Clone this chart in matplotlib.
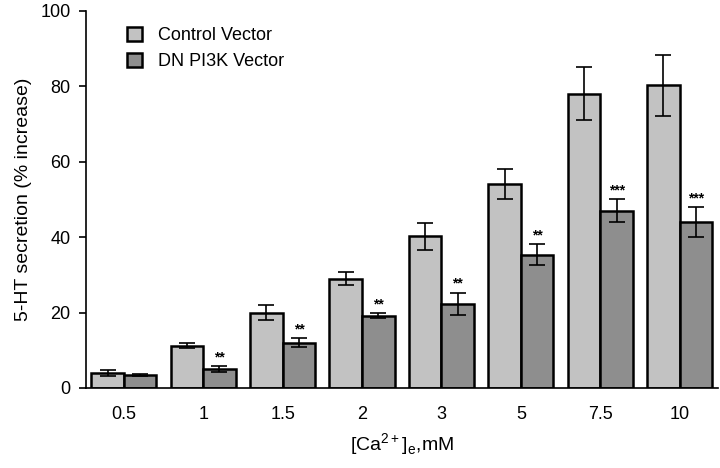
import matplotlib.pyplot as plt
import numpy as np

plt.rcParams['font.family'] = ['Liberation Sans', 'DejaVu Sans']
plt.rcParams['mathtext.fontset'] = 'custom'
plt.rcParams['mathtext.rm'] = 'Liberation Sans'

conc = ['0.5', '1', '1.5', '2', '3', '5', '7.5', '10']
control = [4.0, 11.2, 20.0, 29.0, 40.2, 54.0, 78.0, 80.2]
control_err = [0.8, 0.7, 2.0, 1.8, 3.5, 4.0, 7.0, 8.0]
dn = [3.5, 5.0, 12.0, 19.2, 22.3, 35.3, 47.0, 44.0]
dn_err = [0.3, 0.8, 1.2, 0.7, 3.0, 2.8, 3.0, 4.0]
stars = ['', '**', '**', '**', '**', '**', '***', '***']

fig = plt.figure(figsize=(7.2, 4.68), dpi=100)
ax = fig.add_axes([0.119, 0.171, 0.878, 0.806])

x = np.arange(len(conc))
w = 0.41
err_kw = dict(ecolor='black', elinewidth=1.2, capsize=5.5, capthick=1.2)
ax.bar(x - w / 2, control, w, yerr=control_err, color='#c2c2c2', edgecolor='black',
       linewidth=1.8, label='Control Vector', error_kw=err_kw)
ax.bar(x + w / 2, dn, w, yerr=dn_err, color='#8e8e8e', edgecolor='black',
       linewidth=1.8, label='DN PI3K Vector', error_kw=err_kw)

# significance marks
for i, s in enumerate(stars):
    if s:
        ax.text(x[i] + w / 2, dn[i] + dn_err[i] + 0.5, s, ha='center', va='bottom',
                fontsize=10, fontweight='bold')

ax.set_xlim(-0.48, 7.48)
ax.set_ylim(0, 100)
ax.set_yticks(range(0, 101, 20))
ax.set_xticks(x)
ax.set_xticklabels(conc)
ax.tick_params(axis='x', length=0, labelsize=13, pad=13)
ax.tick_params(axis='y', labelsize=13, width=1.2, length=5, pad=6)
ax.spines['top'].set_visible(False)
ax.spines['right'].set_visible(False)
ax.spines['left'].set_linewidth(1.2)
ax.spines['bottom'].set_linewidth(1.2)

ax.set_ylabel('5-HT secretion (% increase)', fontsize=14, labelpad=6)
ax.set_xlabel(r'[Ca$^{\mathregular{2+}}$]$_{\mathregular{e}}$,mM', fontsize=14, labelpad=6)

ax.legend(loc='upper left', bbox_to_anchor=(0.04, 1.0), frameon=False, fontsize=13,
          handlelength=0.8, handleheight=0.8, handletextpad=0.9, labelspacing=0.5)

fig.savefig('out.png', dpi=100)
